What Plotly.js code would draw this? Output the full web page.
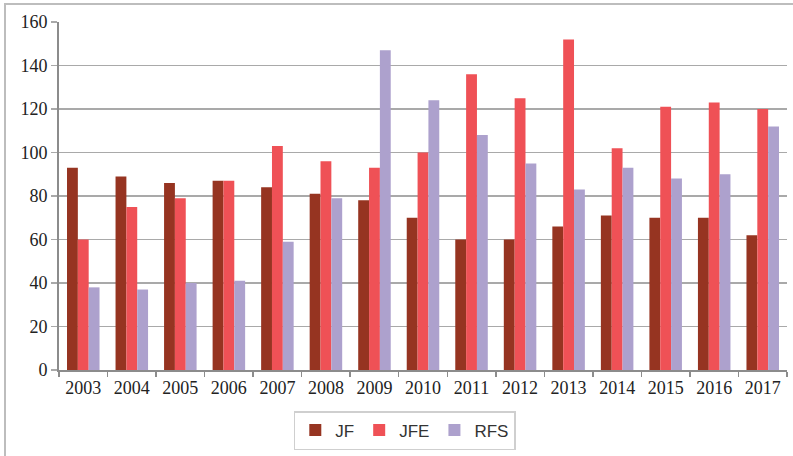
<!DOCTYPE html>
<html>
<head>
<meta charset="utf-8">
<script src="https://cdn.plot.ly/plotly-3.0.1.min.js"></script>
<style>
html,body{margin:0;padding:0;background:#fff;}
#wrap{position:relative;width:793px;height:456px;}
#chart{position:absolute;left:0;top:0;width:793px;height:456px;}
#frame{position:absolute;left:4px;top:3px;width:789px;height:453px;border-left:2px solid #bdbdbd;border-top:2px solid #bdbdbd;pointer-events:none;}
</style>
</head>
<body>
<div id="wrap"><div id="chart"></div><div id="frame"></div></div>
<script>
var years = ['2003','2004','2005','2006','2007','2008','2009','2010','2011','2012','2013','2014','2015','2016','2017'];
var jf  = [93, 89, 86, 87, 84, 81, 78, 70, 60, 60, 66, 71, 70, 70, 62];
var jfe = [60, 75, 79, 87, 103, 96, 93, 100, 136, 125, 152, 102, 121, 123, 120];
var rfs = [38, 37, 40, 41, 59, 79, 147, 124, 108, 95, 83, 93, 88, 90, 112];
var yTicks = [0, 20, 40, 60, 80, 100, 120, 140, 160];

var traces = [
  {type:'bar', name:'JF', x:years, y:jf, marker:{color:'#963421'}},
  {type:'bar', name:'JFE', x:years, y:jfe, marker:{color:'#EF5156'}},
  {type:'bar', name:'RFS', x:years, y:rfs, marker:{color:'#ADA1CD'}}
];

var layout = {
  width:793, height:456,
  margin:{l:59, r:6, t:22, b:86},
  paper_bgcolor:'#fff', plot_bgcolor:'#fff',
  barmode:'group', bargap:0.33, bargroupgap:0,
  showlegend:true,
  legend:{orientation:'h', x:0.475, xanchor:'center', y:-0.118, yanchor:'top',
    bordercolor:'#cfcfcf', borderwidth:1.5,
    font:{family:'Liberation Sans, Arial, sans-serif', size:17, color:'#333'},
    itemwidth:30, tracegroupgap:0},
  xaxis:{type:'category', showgrid:false, showline:true, linecolor:'#8c8c8c', linewidth:2,
    ticks:'outside', tickson:'boundaries', ticklen:5, tickcolor:'#8c8c8c', tickwidth:1.5,
    tickfont:{family:'Liberation Serif, Times New Roman, serif', size:18, color:'#222'}},
  yaxis:{range:[0,160], tickvals:yTicks, showgrid:true, gridcolor:'#a9a9a9', gridwidth:1.5,
    showline:true, linecolor:'#8c8c8c', linewidth:2, zeroline:false,
    ticks:'outside', ticklen:6, tickcolor:'#a9a9a9', tickwidth:1.5,
    tickfont:{family:'Liberation Serif, Times New Roman, serif', size:18, color:'#222'}}
};

Plotly.newPlot('chart', traces, layout, {displayModeBar:false, staticPlot:true});
</script>
</body>
</html>
